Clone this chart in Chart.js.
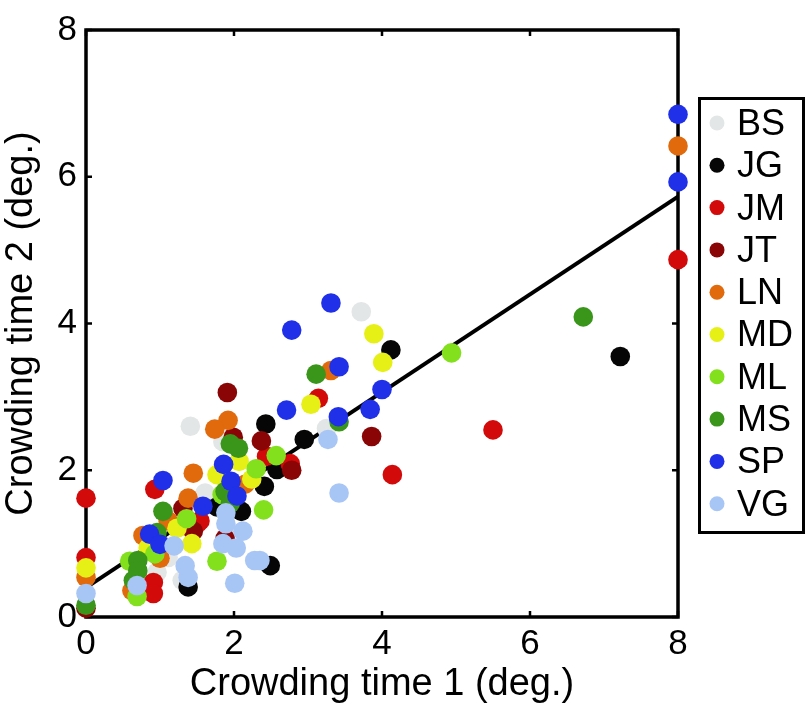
<!DOCTYPE html>
<html><head><meta charset="utf-8">
<script src="https://cdn.jsdelivr.net/npm/chart.js@4.4.1/dist/chart.umd.min.js"></script>
<style>html,body{margin:0;padding:0;background:#fff}#wrap{width:806px;height:705px}</style>
</head><body><div id="wrap"><canvas id="c" width="806" height="705"></canvas></div>
<script>
// Observers and their colours
const observers = ['BS','JG','JM','JT','LN','MD','ML','MS','SP','VG'];
const colors = ['#e3e6e6','#060606','#d30a0a','#8a0505','#e06a0c','#e6f016','#82e01c','#3a961a','#1f30e8','#a8c6f5'];

// Crowding time 1 (x) and time 2 (y), per observer
const BS_x = [1.41,1.58,1.61,1.11,0.96,1.30,3.72,3.25,1.85];
const BS_y = [2.60,1.62,1.69,0.81,0.61,0.50,4.16,2.57,2.39];
const JG_x = [7.22,4.12,2.43,2.95,2.58,2.41,2.49,1.77,2.10,1.38];
const JG_y = [3.55,3.64,2.63,2.42,2.01,1.78,0.70,1.50,1.44,0.41];
const JM_x = [8.00,5.50,4.14,3.14,2.44,2.76,0.00,0.93,1.51,0.91,0.91,0.00,1.54];
const JM_y = [4.87,2.55,1.94,2.98,2.19,2.09,1.62,1.74,1.28,0.47,0.32,0.81,1.31];
const JT_x = [1.91,1.99,2.37,3.86,2.78,1.31,1.45,1.88,0.00];
const JT_y = [3.06,2.45,2.40,2.46,2.00,1.48,1.17,1.07,0.12];
const LN_x = [8.00,3.31,1.92,1.74,1.45,2.15,1.38,1.11,0.77,1.00,0.62,0.00];
const LN_y = [6.42,3.36,2.68,2.56,1.96,1.81,1.62,1.31,1.11,0.80,0.36,0.54];
const MD_x = [3.89,4.01,3.04,2.07,1.77,2.24,1.23,0.84,1.43,0.00];
const MD_y = [3.86,3.47,2.90,2.12,1.94,1.88,1.21,0.94,1.00,0.67];
const ML_x = [4.94,2.57,2.30,2.40,1.84,1.36,0.93,0.59,0.69,1.77];
const ML_y = [3.60,2.20,2.02,1.46,1.67,1.34,0.86,0.76,0.28,0.76];
const MS_x = [6.72,3.11,3.42,1.95,2.06,1.88,1.95,1.04,0.96,0.70,0.70,0.64,0.00];
const MS_y = [4.09,3.31,2.66,2.36,2.30,1.71,1.55,1.44,1.15,0.77,0.63,0.50,0.16];
const SP_x = [8.00,8.00,3.31,2.78,3.42,4.00,2.71,3.84,3.41,1.86,1.96,2.04,1.58,1.04,0.86,1.00];
const SP_y = [6.85,5.93,4.28,3.91,3.41,3.10,2.82,2.83,2.73,2.08,1.85,1.65,1.51,1.86,1.13,0.99];
const VG_x = [3.27,3.42,2.35,1.89,1.89,2.12,1.85,2.03,2.28,2.01,1.19,1.34,1.38,0.69,0.00];
const VG_y = [2.42,1.69,0.77,1.42,1.27,1.17,1.00,0.94,0.77,0.46,0.97,0.70,0.54,0.43,0.32];

// Regression line end points
const fitX = [0, 8];
const fitY = [0.40, 5.73];

// Axis ticks
const tickValues = [0, 2, 4, 6, 8];

const xs = [BS_x,JG_x,JM_x,JT_x,LN_x,MD_x,ML_x,MS_x,SP_x,VG_x];
const ys = [BS_y,JG_y,JM_y,JT_y,LN_y,MD_y,ML_y,MS_y,SP_y,VG_y];

const FONT = '"Liberation Sans", Arial, Helvetica, sans-serif';

const datasets = observers.map((name, i) => ({
  type: 'scatter',
  label: name,
  data: xs[i].map((x, j) => ({x: x, y: ys[i][j]})),
  backgroundColor: colors[i],
  borderWidth: 0,
  pointRadius: 9.8,
  pointHoverRadius: 9.8,
  order: 20 - i,
  clip: false
}));
datasets.push({
  type: 'line',
  label: 'fit',
  data: fitX.map((x, j) => ({x: x, y: fitY[j]})),
  borderColor: '#000',
  borderWidth: 4,
  pointRadius: 0,
  fill: false,
  order: 100,
  clip: false
});

const framePlugin = {
  id: 'frame',
  beforeDatasetsDraw(chart) {
    const {ctx, chartArea: a, scales: {x, y}} = chart;
    ctx.save();
    ctx.strokeStyle = '#000';
    ctx.lineWidth = 3.5;
    ctx.strokeRect(a.left, a.top, a.right - a.left, a.bottom - a.top);
    ctx.lineWidth = 2.5;
    const tl = 6;
    ctx.beginPath();
    tickValues.forEach(v => {
      const px = x.getPixelForValue(v);
      ctx.moveTo(px, a.bottom); ctx.lineTo(px, a.bottom - tl);
      ctx.moveTo(px, a.top); ctx.lineTo(px, a.top + tl);
      const py = y.getPixelForValue(v);
      ctx.moveTo(a.left, py); ctx.lineTo(a.left + tl, py);
      ctx.moveTo(a.right, py); ctx.lineTo(a.right - tl, py);
    });
    ctx.stroke();
    ctx.restore();
  }
};

const legendPlugin = {
  id: 'boxLegend',
  afterDraw(chart) {
    const ctx = chart.ctx;
    ctx.save();
    ctx.strokeStyle = '#000';
    ctx.lineWidth = 3;
    ctx.strokeRect(699.5, 98.5, 104, 434);
    ctx.font = '36px ' + FONT;
    ctx.textBaseline = 'middle';
    ctx.textAlign = 'left';
    observers.forEach((name, i) => {
      const cy = 123 + i * 42.3;
      ctx.fillStyle = colors[i];
      ctx.beginPath();
      ctx.arc(717, cy, 7.5, 0, Math.PI * 2);
      ctx.fill();
      ctx.fillStyle = '#000';
      ctx.fillText(name, 737, cy + 2);
    });
    ctx.restore();
  }
};

new Chart(document.getElementById('c'), {
  data: { datasets },
  options: {
    responsive: false,
    animation: false,
    events: [],
    layout: { padding: { top: 24, right: 128, bottom: 0, left: 0 } },
    plugins: { legend: { display: false }, tooltip: { enabled: false } },
    scales: {
      x: {
        type: 'linear', min: 0, max: 8,
        afterFit(s) { s.height = 88; },
        grid: { display: false, drawTicks: false },
        border: { display: false },
        ticks: { stepSize: 2, color: '#000', padding: 6, font: { family: FONT, size: 35 } },
        title: { display: true, text: 'Crowding time 1 (deg.)', color: '#000',
                 font: { family: FONT, size: 38, lineHeight: 1.0 }, padding: { top: 0, bottom: 1 } }
      },
      y: {
        type: 'linear', min: 0, max: 8,
        afterFit(s) { s.width = 86; },
        grid: { display: false, drawTicks: false },
        border: { display: false },
        ticks: { stepSize: 2, color: '#000', padding: 9, font: { family: FONT, size: 35 } },
        title: { display: true, text: 'Crowding time 2 (deg.)', color: '#000',
                 font: { family: FONT, size: 38, lineHeight: 1.0 }, padding: { top: 3, bottom: 0 } }
      }
    }
  },
  plugins: [framePlugin, legendPlugin]
});
</script>
</body></html>
